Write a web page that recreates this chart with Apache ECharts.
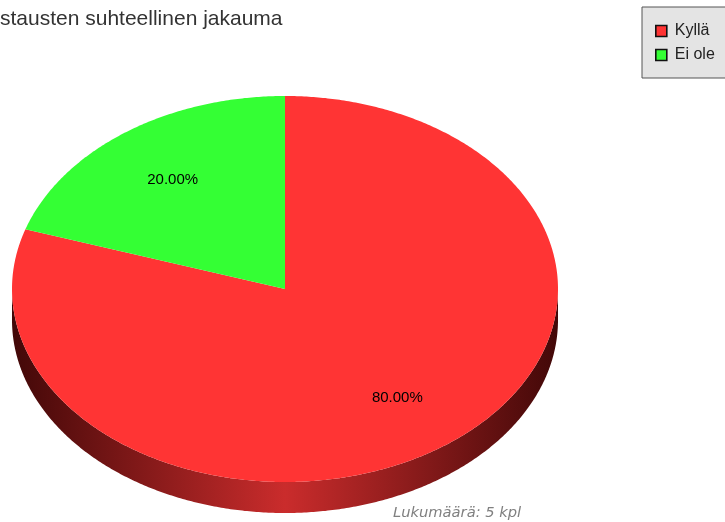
<!DOCTYPE html>
<html>
<head>
<meta charset="utf-8">
<script src="https://cdn.jsdelivr.net/npm/echarts@6/dist/echarts.min.js"></script>
<style>
html,body{margin:0;padding:0;background:#fff;}
#c{width:725px;height:522px;}
</style>
</head>
<body>
<div id="c"></div>
<script>
const categories = ['Kyllä', 'Ei ole'];
const counts = [4, 1];
const colors = ['#ff3434', '#34ff34'];
const titleText = 'stausten suhteellinen jakauma';
const footerPrefix = 'Lukumäärä: ';
const footerSuffix = ' kpl';

const total = counts.reduce((a, b) => a + b, 0);
const CX = 285, CY = 289, RX = 273, RY = 193, DEPTH = 31;

function pt(deg, f, dy) {
  const r = deg * Math.PI / 180;
  return [CX + RX * f * Math.sin(r), CY - RY * f * Math.cos(r) + (dy || 0)];
}

function renderSlice(params, api) {
  const v = api.value(0);
  const idx = api.value(1);
  let before = 0;
  for (let k = 0; k < idx; k++) before += counts[k];
  const start = before / total * 360;
  const end = start + v / total * 360;
  const children = [];
  const s0 = Math.max(start, 90), s1 = Math.min(end, 270);
  if (s1 > s0) {
    const topEdge = [], botEdge = [];
    for (let a = s0; a <= s1 + 1e-9; a += 0.5) {
      topEdge.push(pt(a, 1, 0));
      botEdge.push(pt(a, 1, DEPTH));
    }
    children.push({
      type: 'polygon',
      shape: { points: topEdge.concat(botEdge.reverse()) },
      style: {
        fill: {
          type: 'linear', x: CX - RX, y: 0, x2: CX + RX, y2: 0, global: true,
          colorStops: [
            { offset: 0, color: '#420808' },
            { offset: 0.5, color: '#ca2c2c' },
            { offset: 1, color: '#420808' }
          ]
        }
      }
    });
  }
  const pts = [[CX, CY]];
  for (let a = start; a <= end + 1e-9; a += 0.5) pts.push(pt(a, 1, 0));
  pts.push(pt(end, 1, 0));
  children.push({
    type: 'polygon',
    shape: { points: pts },
    style: { fill: api.visual('color') }
  });
  const mid = (start + end) / 2;
  const lp = pt(mid, 0.7, 0);
  children.push({
    type: 'text',
    style: {
      text: (v / total * 100).toFixed(2) + '%',
      x: lp[0], y: lp[1],
      align: 'center', verticalAlign: 'middle',
      font: '15px "Liberation Sans", Arial, sans-serif',
      fill: '#000'
    }
  });
  return { type: 'group', children };
}

const chart = echarts.init(document.getElementById('c'), null, { renderer: 'canvas' });
chart.setOption({
  animation: false,
  title: {
    text: titleText, left: 0, top: 9, padding: 0,
    textStyle: { fontSize: 21, fontWeight: 'normal', color: '#333', fontFamily: '"Liberation Sans", Arial, sans-serif' }
  },
  legend: {
    data: categories,
    orient: 'vertical',
    left: 642, top: 7,
    icon: 'rect', itemWidth: 11, itemHeight: 11, itemGap: 8,
    backgroundColor: '#e4e4e4', borderColor: '#555', borderWidth: 1,
    padding: [16, 20, 15, 13],
    itemStyle: { borderColor: '#111', borderWidth: 1.6 },
    textStyle: { fontSize: 16, lineHeight: 16, color: '#222', fontFamily: '"Liberation Sans", Arial, sans-serif', padding: [0, 0, 0, 3] }
  },
  graphic: [{
    type: 'text', left: 393, top: 506,
    style: {
      text: footerPrefix + total + footerSuffix,
      font: 'italic 14.7px "DejaVu Sans", sans-serif',
      fill: '#808080'
    }
  }],
  series: categories.map((name, i) => ({
    type: 'custom',
    name: name,
    coordinateSystem: 'none',
    itemStyle: { color: colors[i] },
    data: [[counts[i], i]],
    renderItem: renderSlice
  }))
});
</script>
</body>
</html>
